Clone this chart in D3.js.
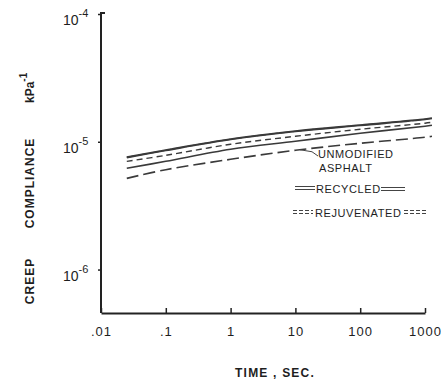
<!DOCTYPE html>
<html>
<head>
<meta charset="utf-8">
<script src="https://cdn.jsdelivr.net/npm/d3@7"></script>
<style>
  body { margin: 0; background: #fff; }
  svg { display: block; }
  text { font-family: "Liberation Sans", "DejaVu Sans", sans-serif; fill: #1e1e1e; }
</style>
</head>
<body>
<div id="chart"></div>
<script>
// time in seconds
const times = [0.025, 0.1, 1, 10, 100, 1000, 1280];

// creep compliance, 1/kPa
const recycledUpper    = [7.56e-6, 8.58e-6, 1.046e-5, 1.209e-5, 1.347e-5, 1.50e-5, 1.528e-5];
const rejuvenatedUpper = [7.03e-6, 7.83e-6, 9.56e-6, 1.104e-5, 1.253e-5, 1.397e-5, 1.42e-5];
const recycledLower    = [6.20e-6, 7.03e-6, 8.73e-6, 1.009e-5, 1.166e-5, 1.323e-5, 1.347e-5];
const unmodified       = [5.17e-6, 6.05e-6, 7.29e-6, 8.58e-6, 9.73e-6, 1.085e-5, 1.105e-5];

const xTicks = [0.01, 0.1, 1, 10, 100, 1000];
const xTickLabels = [".01", ".1", "1", "10", "100", "1000"];
const yTicks = [1e-6, 1e-5, 1e-4];
const yTickExps = ["-6", "-5", "-4"];

const width = 441, height = 381;
const svg = d3.select("#chart").append("svg")
  .attr("width", width)
  .attr("height", height);

const x = d3.scaleLog().domain([0.01, 1000]).range([101, 425]);
const y = d3.scaleLog().domain([Math.pow(10, -6.34), 1e-4]).range([313, 14]);

const ink = "#222";

// x axis, ticks pointing up into the plot
const xAxis = svg.append("g")
  .attr("transform", `translate(0,${y.range()[0]})`)
  .call(d3.axisBottom(x)
    .tickValues(xTicks)
    .tickSizeInner(-5)
    .tickSizeOuter(0)
    .tickPadding(14)
    .tickFormat((d, i) => xTickLabels[i]));
xAxis.select(".domain").attr("stroke", ink).attr("stroke-width", 2);
xAxis.selectAll(".tick line").attr("stroke", ink).attr("stroke-width", 1.5);
xAxis.selectAll(".tick text")
  .style("font-size", "13px")
  .style("font-family", "'Liberation Sans', sans-serif")
  .style("letter-spacing", "1px")
  .attr("fill", "#1e1e1e");

// y axis
const yAxis = svg.append("g")
  .attr("transform", `translate(${x.range()[0]},0)`)
  .call(d3.axisLeft(y)
    .tickValues(yTicks)
    .tickSizeInner(3)
    .tickSizeOuter(0)
    .tickFormat(""));
yAxis.select(".domain")
  .attr("d", `M0,${y.range()[0]}V${y.range()[1] - 1}h4`)
  .attr("fill", "none")
  .attr("stroke", ink).attr("stroke-width", 2);
yAxis.selectAll(".tick line").attr("stroke", ink).attr("stroke-width", 1.5);

// tick labels 10^n with superscript
const yLab = svg.append("g");
yTicks.forEach((v, i) => {
  const t = yLab.append("text")
    .attr("x", 63)
    .attr("y", y(v) + 11)
    .style("font-size", "14px");
  t.append("tspan").text("10");
  t.append("tspan").attr("dy", -8).style("font-size", "11px").text(yTickExps[i]);
});

// axis titles
svg.append("text")
  .attr("x", 275).attr("y", 377)
  .attr("text-anchor", "middle")
  .style("font-size", "12px")
  .style("font-weight", "bold")
  .style("letter-spacing", "1.2px")
  .text("TIME , SEC.");

const yTitle = svg.append("g").attr("transform", "translate(34,0) rotate(-90)");
yTitle.append("text")
  .attr("x", -281).attr("y", 0)
  .attr("text-anchor", "middle")
  .style("font-size", "12px")
  .style("font-weight", "bold")
  .style("letter-spacing", "1px")
  .text("CREEP");
yTitle.append("text")
  .attr("x", -183).attr("y", 0)
  .attr("text-anchor", "middle")
  .style("font-size", "12px")
  .style("font-weight", "bold")
  .style("letter-spacing", "1px")
  .text("COMPLIANCE");
const unit = yTitle.append("text")
  .attr("x", -103).attr("y", 0)
  .style("font-size", "12px")
  .style("font-weight", "bold");
unit.append("tspan").text("kPa");
unit.append("tspan").attr("dy", -7).style("font-size", "10px").text("-1");

// curves
const line = d3.line()
  .x((d, i) => x(times[i]))
  .y(d => y(d))
  .curve(d3.curveCatmullRom);

const series = [
  { values: recycledUpper, width: 2.2, dash: null },
  { values: recycledUpper, width: 1.2, dash: "9,3" },
  { values: rejuvenatedUpper, width: 1.4, dash: "6,4" },
  { values: recycledLower, width: 1.6, dash: null },
  { values: unmodified, width: 1.6, dash: "12,5" }
];

svg.append("g").selectAll("path")
  .data(series)
  .enter()
  .append("path")
  .attr("d", d => line(d.values))
  .attr("fill", "none")
  .attr("stroke", "#3a3a3a")
  .attr("stroke-width", d => d.width)
  .attr("stroke-dasharray", d => d.dash);

// annotations
const ann = svg.append("g").style("font-size", "11px");
const leaderX = 300;
const leaderT = x.invert(leaderX);
const uy = d3.scaleLog().domain(times).range(unmodified)(leaderT);
ann.append("path")
  .attr("d", `M${leaderX},${y(uy)}L312,${y(uy) + 2}L318,156`)
  .attr("fill", "none").attr("stroke", "#444").attr("stroke-width", 1);
ann.append("text").attr("x", 318).attr("y", 158).style("letter-spacing", "0.6px").text("UNMODIFIED");
ann.append("text").attr("x", 319).attr("y", 172).style("letter-spacing", "0.6px").text("ASPHALT");
ann.append("text").attr("x", 316).attr("y", 193).style("letter-spacing", "0.6px").text("RECYCLED");
ann.append("text").attr("x", 315).attr("y", 217).style("letter-spacing", "0.6px").text("REJUVENATED");

const sample = (x1, x2, yy, dash) => {
  [yy - 1.5, yy + 1.5].forEach(v => {
    ann.append("line")
      .attr("x1", x1).attr("x2", x2).attr("y1", v).attr("y2", v)
      .attr("stroke", "#444").attr("stroke-width", 1)
      .attr("stroke-dasharray", dash);
  });
};
sample(295, 315, 188, null);
sample(381, 405, 189, null);
sample(293, 313, 212, "4,2");
sample(404, 428, 212, "4,2");
</script>
</body>
</html>
